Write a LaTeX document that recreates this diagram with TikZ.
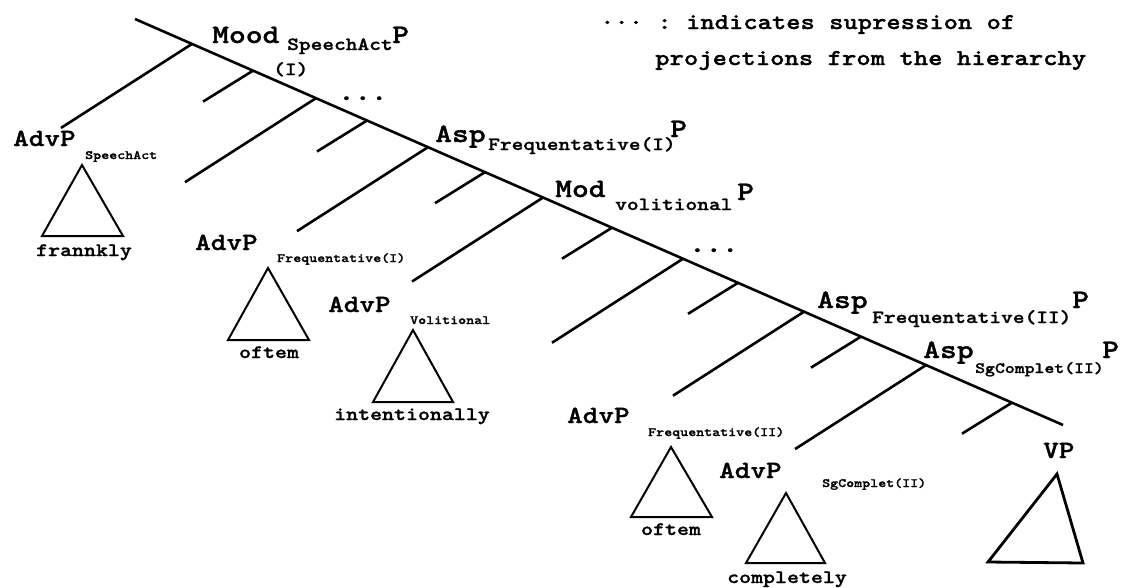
\documentclass[tikz,border=0pt]{standalone}
\usepackage{fontspec}
\newfontfamily\tw{lmmonolt10-bold.otf}[FakeStretch=1.2,FakeBold=1.2]
\usetikzlibrary{calc}
\frenchspacing
\newcommand\fsz[1]{\fontsize{#1}{#1}\selectfont}
\tikzset{
  head/.style={inner sep=0pt, anchor=base west, font=\tw\fsz{26.7}},
  hsub/.style={inner sep=0pt, anchor=base west, font=\tw\fsz{18.6}},
  adv/.style={inner sep=0pt, anchor=base west, font=\tw\fsz{24.8}},
  asub/.style={inner sep=0pt, anchor=base west, font=\tw\fsz{12.7}},
  leaf/.style={inner sep=0pt, anchor=base, font=\tw\fsz{19}},
  note/.style={inner sep=0pt, anchor=base west, font=\tw\fsz{22.7}},
  dots/.style={inner sep=0pt, anchor=base west, font=\tw\fsz{26}},
  branch/.style={line width=2.6pt},
  tri/.style={line width=2pt, line join=miter},
}
\begin{document}
\begin{tikzpicture}[x=1pt,y=-1pt]
\path[use as bounding box] (0,0) rectangle (1123,587);

% spine
\coordinate (s) at (135,19);
\coordinate (e) at (1063,425);
\draw[branch] (s) -- (e);

% branch points on the spine
\foreach \n/\t in {1/0.0614,2/0.1272,3/0.1950,4/0.2500,5/0.3157,6/0.3772,7/0.4397,
                   8/0.5140,9/0.5905,10/0.6498,11/0.7209,12/0.7823,13/0.8524,14/0.9450}
  \coordinate (b\n) at ($(s)!\t!(e)$);

% long branches (specifiers)
\foreach \n in {1,3,5,7,9,11,13}
  \coordinate (l\n) at ($(b\n)+(-131,84)$);
\foreach \n in {1,3,5,7,9,11,13}
  \draw[branch] (b\n) -- (l\n);
% short branches
\foreach \n in {2,4,6,8,10,12,14}
  \coordinate (l\n) at ($(b\n)+(-50,31)$);
\foreach \n in {2,4,6,8,10,12,14}
  \draw[branch] (b\n) -- (l\n);

% head labels
\node[head] (mood) at (212,43) {Mood};
\node[hsub] (moodsub) at (287,50) {SpeechAct};
\node[head] (moodP) at (392,43) {P};
\node[hsub] (moodI) at (273,75) {(I)};

\node[head] (asp1) at (435,142) {Asp};
\node[hsub] (asp1sub) at (488,150) {Frequentative(I)};
\node[head] (asp1P) at (670,137) {P};

\node[head] (mod) at (555,197) {Mod};
\node[hsub] (modsub) at (615,210) {volitional};
\node[head] (modP) at (737,200) {P};

\node[head] (asp2) at (817,308) {Asp};
\node[hsub] (asp2sub) at (872,323) {Frequentative(II)};
\node[head] (asp2P) at (1072,308) {P};

\node[head] (asp3) at (923,358) {Asp};
\node[hsub, font=\tw\fsz{15.7}] (asp3sub) at (975,373) {SgComplet(II)};
\node[head] (asp3P) at (1102,358) {P};

% suppression dots
\node[dots] (dots1) at (338,100) {...};
\node[dots] (dots2) at (689,252) {...};

% legend
\node[note] (leg1) at (600,29) {\resizebox{415pt}{\height}{\raisebox{5pt}{...} : indicates supression of}};
\node[note] (leg2) at (655,65) {\resizebox{431pt}{\height}{projections from the hierarchy}};

% adverb phrases
\node[adv] (adv1) at (13,146) {AdvP};
\node[asub] (adv1sub) at (85,159) {SpeechAct};
\draw[tri] (82,165) -- (42,236) -- (123,236) -- cycle;
\node[leaf] (w1) at (84,256) {frannkly};

\node[adv] (adv2) at (195,250) {AdvP};
\node[asub] (adv2sub) at (277,262) {Frequentative(I)};
\draw[tri] (268,268) -- (228,340) -- (309,340) -- cycle;
\node[leaf] (w2) at (269,358) {oftem};

\node[adv] (adv3) at (328,312) {AdvP};
\node[asub] (adv3sub) at (410,324) {Volitional};
\draw[tri] (413,330) -- (373,402) -- (453,402) -- cycle;
\node[leaf] (w3) at (412,420) {intentionally};

\node[adv] (adv4) at (567,423) {AdvP};
\node[asub] (adv4sub) at (648,436) {Frequentative(II)};
\draw[tri] (671,447) -- (631,517) -- (712,517) -- cycle;
\node[leaf] (w4) at (671,535) {oftem};

\node[adv] (adv5) at (719,478) {AdvP};
\node[asub] (adv5sub) at (822,487) {SgComplet(II)};
\draw[tri] (786,493) -- (746,563) -- (825,563) -- cycle;
\node[leaf] (w5) at (787,583) {completely};

\node[adv] (vp) at (1043,458) {VP};
\draw[tri, line width=2.8pt] (1057,474) -- (988,562) -- (1083,563) -- cycle;
\end{tikzpicture}
\end{document}
